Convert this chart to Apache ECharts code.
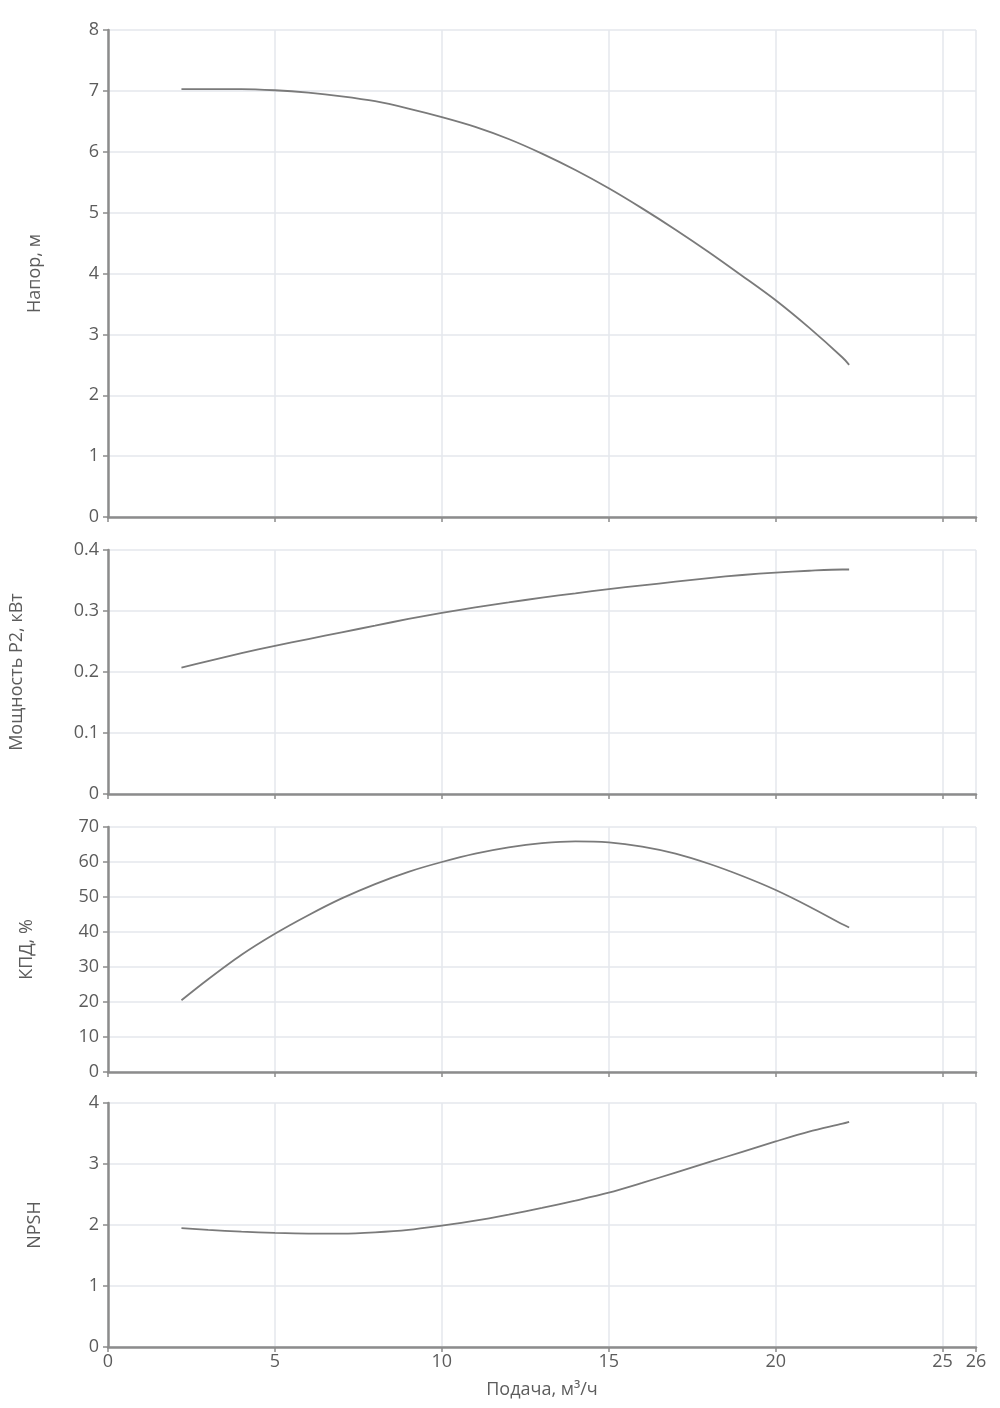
<!DOCTYPE html>
<html>
<head>
<meta charset="utf-8">
<script src="https://cdn.jsdelivr.net/npm/echarts@6/dist/echarts.min.js"></script>
<style>
html,body{margin:0;padding:0;background:#fff;}
#c{width:1000px;height:1408px;}
</style>
</head>
<body>
<div id="c"></div>
<script>
// Flow, m3/h (shared by all curves)
const flow = [2.2, 3, 4, 5, 6, 7, 8, 9, 10, 11, 12, 13, 14, 15, 16, 17, 18, 19, 20, 21, 22, 22.2];
// Head, m
const headValues = [7.03, 7.03, 7.03, 7.01, 6.97, 6.91, 6.83, 6.71, 6.57, 6.41, 6.21, 5.97, 5.70, 5.40, 5.07, 4.72, 4.35, 3.96, 3.56, 3.11, 2.62, 2.50];
// Power P2, kW
const powerValues = [0.207, 0.218, 0.231, 0.243, 0.254, 0.265, 0.276, 0.287, 0.297, 0.306, 0.314, 0.322, 0.329, 0.336, 0.342, 0.348, 0.354, 0.359, 0.363, 0.366, 0.368, 0.368];
// Efficiency, %
const effValues = [20.5, 26.5, 33.5, 39.5, 44.8, 49.6, 53.7, 57.2, 60.0, 62.4, 64.2, 65.4, 65.9, 65.6, 64.4, 62.4, 59.5, 56.0, 52.0, 47.3, 42.2, 41.3];
// NPSH, m
const npshValues = [1.95, 1.92, 1.89, 1.87, 1.86, 1.86, 1.88, 1.92, 1.99, 2.07, 2.17, 2.28, 2.40, 2.53, 2.69, 2.86, 3.03, 3.20, 3.37, 3.53, 3.66, 3.69];

const axisNames = ['Напор, м', 'Мощность P2, кВт', 'КПД, %', 'NPSH'];
const xName = 'Подача, м³/ч';

const font = 'Open Sans';
const textColor = '#5c5c5c';
const axisColor = '#8c8c8c';
const splitColor = '#e4e7ed';
const lineColor = '#7a7a7a';

const grids = [
  {left: 108, right: 24, top: 30, height: 487},
  {left: 108, right: 24, top: 550, height: 244},
  {left: 108, right: 24, top: 827, height: 245},
  {left: 108, right: 24, top: 1103, height: 244}
];
const yCfg = [
  {min: 0, max: 8, interval: 1, gap: 64},
  {min: 0, max: 0.4, interval: 0.1, gap: 82},
  {min: 0, max: 70, interval: 10, gap: 72},
  {min: 0, max: 4, interval: 1, gap: 64}
];

const xAxes = grids.map((g, i) => ({
  type: 'value', gridIndex: i, min: 0, max: 26, interval: 5,
  axisLine: {show: true, lineStyle: {color: axisColor, width: 2.5}},
  axisTick: {show: true, length: 5, lineStyle: {color: axisColor, width: 1.5}},
  splitLine: {show: true, lineStyle: {color: splitColor, width: 1.5}},
  axisLabel: {show: i === 3, color: textColor, fontFamily: font, fontSize: 18, margin: 6},
  name: i === 3 ? xName : '',
  nameLocation: 'middle', nameGap: 34,
  nameTextStyle: {color: textColor, fontFamily: font, fontSize: 18}
}));

const yAxes = yCfg.map((c, i) => ({
  type: 'value', gridIndex: i, min: c.min, max: c.max, interval: c.interval,
  axisLine: {show: true, lineStyle: {color: axisColor, width: 2.5}},
  axisTick: {show: true, length: 5, lineStyle: {color: axisColor, width: 1.5}},
  splitLine: {show: true, lineStyle: {color: splitColor, width: 1.5}},
  axisLabel: {color: textColor, fontFamily: font, fontSize: 18, margin: 9,
    verticalAlign: 'middle', padding: [0, 0, 10, 0]},
  name: axisNames[i], nameLocation: 'middle', nameGap: c.gap, nameRotate: 90,
  nameTextStyle: {color: textColor, fontFamily: font, fontSize: 18}
}));

function pairs(xs, ys){ return xs.map((x, k) => [x, ys[k]]); }
const seriesData = [
  pairs(flow, headValues),
  pairs(flow, powerValues),
  pairs(flow, effValues),
  pairs(flow, npshValues)
];

const chart = echarts.init(document.getElementById('c'), null, {renderer: 'canvas'});
chart.setOption({
  animation: false,
  backgroundColor: '#fff',
  grid: grids,
  xAxis: xAxes,
  yAxis: yAxes,
  series: seriesData.map((d, i) => ({
    type: 'line', xAxisIndex: i, yAxisIndex: i, data: d,
    smooth: 0.3, showSymbol: false, symbol: 'none',
    lineStyle: {color: lineColor, width: 1.8}
  }))
});
</script>
</body>
</html>
